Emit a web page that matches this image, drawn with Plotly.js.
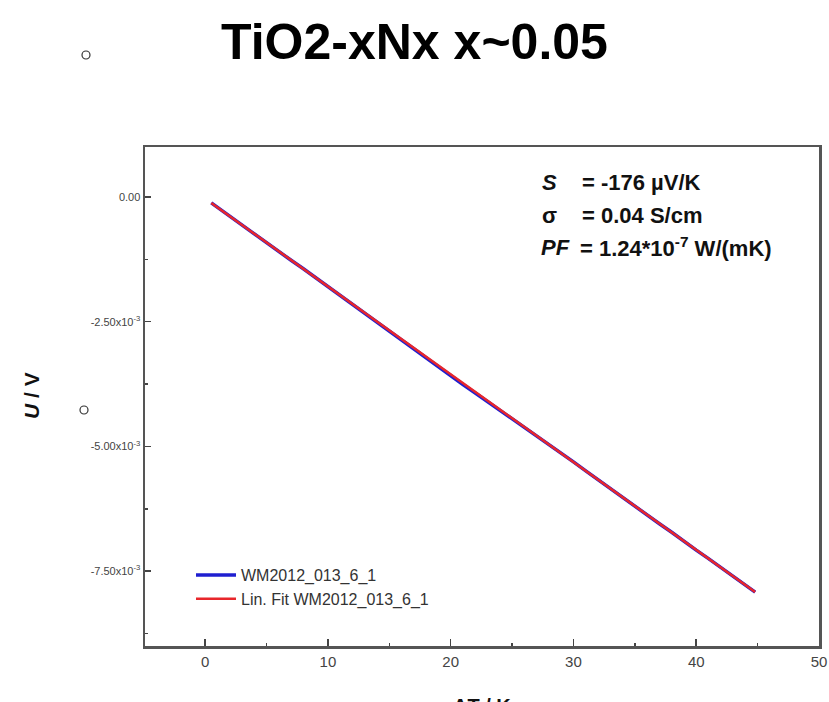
<!DOCTYPE html>
<html>
<head>
<meta charset="utf-8">
<script src="https://cdn.plot.ly/plotly-3.0.1.min.js"></script>
<style>html,body{margin:0;padding:0;background:#fff;}#chart{width:829px;height:702px;}</style>
</head>
<body>
<div id="chart"></div>
<script>
// Measured data (ΔT in K, U in V)
const deltaT = [0.5, 1, 2, 3, 4, 5, 6, 7, 8, 9, 10, 11, 12, 13, 14, 15, 16, 17, 18, 19, 20, 21, 22, 23, 24, 25, 26, 27, 28, 29, 30, 31, 32, 33, 34, 35, 36, 37, 38, 39, 40, 41, 42, 43, 44, 44.8];
const voltage_mV = [-0.12, -0.21, -0.39, -0.56, -0.74, -0.91, -1.09, -1.27, -1.44, -1.62, -1.79, -1.97, -2.15, -2.32, -2.50, -2.68, -2.86, -3.04, -3.23, -3.41, -3.59, -3.76, -3.93, -4.10, -4.27, -4.44, -4.61, -4.79, -4.96, -5.14, -5.31, -5.49, -5.67, -5.84, -6.02, -6.19, -6.37, -6.55, -6.72, -6.91, -7.08, -7.25, -7.43, -7.60, -7.78, -7.92];
// Linear fit end points
const fitT = [0.5, 44.8];
const fit_mV = [-0.122, -7.919];

const seriesNames = ['WM2012_013_6_1', 'Lin. Fit WM2012_013_6_1'];
const xTickVals = [0, 10, 20, 30, 40, 50];
const xTickText = ['0', '10', '20', '30', '40', '50'];
const yTickVals = [0, -2.5e-3, -5e-3, -7.5e-3];
const yTickText = ['0.00', '-2.50x10<sup>-3</sup>', '-5.00x10<sup>-3</sup>', '-7.50x10<sup>-3</sup>'];

const voltage = voltage_mV.map(v => v / 1000);
const fitU = fit_mV.map(v => v / 1000);

const FONT = 'Liberation Sans, Arial, sans-serif';

const traces = [
  {x: deltaT, y: voltage, type: 'scatter', mode: 'lines', name: seriesNames[0],
   line: {color: '#1f1fd0', width: 3.5}},
  {x: fitT, y: fitU, type: 'scatter', mode: 'lines', name: seriesNames[1],
   line: {color: '#e8262b', width: 2.5}}
];

function px2x(p){ return (p - 145) / 674; }
function px2y(p){ return (646 - p) / 499; }

const annFont = {family: FONT, size: 22, color: '#111'};
const layout = {
  width: 829, height: 702,
  margin: {l: 145, r: 10, t: 147, b: 56},
  paper_bgcolor: '#fff', plot_bgcolor: '#fff',
  font: {family: FONT, color: '#333'},
  showlegend: true,
  legend: {x: px2x(191), y: px2y(558), xanchor: 'left', yanchor: 'top',
    bgcolor: 'rgba(0,0,0,0)', font: {family: FONT, size: 16, color: '#333'},
    itemwidth: 40, tracegroupgap: 0},
  xaxis: {range: [-4.9, 50], tickvals: xTickVals, ticktext: xTickText,
    ticks: 'inside', ticklen: 7, tickwidth: 1.5, tickcolor: '#444',
    minor: {dtick: 5, tick0: 5, ticks: 'inside', ticklen: 3, tickcolor: '#444'},
    showline: true, linecolor: '#555', linewidth: 2.5, mirror: true,
    showgrid: false, zeroline: false,
    tickfont: {family: FONT, size: 15, color: '#444'}},
  yaxis: {range: [-9e-3, 1e-3], tickvals: yTickVals, ticktext: yTickText,
    ticks: 'inside', ticklen: 6, tickwidth: 1.5, tickcolor: '#444',
    minor: {dtick: 1.25e-3, tick0: 1.25e-3, ticks: 'inside', ticklen: 3, tickcolor: '#444'},
    showline: true, linecolor: '#555', linewidth: 2.5, mirror: true,
    showgrid: false, zeroline: false,
    tickfont: {family: FONT, size: 11, color: '#444'}},
  title: {text: '<b>TiO2-xNx x~0.05</b>', font: {family: FONT, size: 50, color: '#000'},
    x: 0.5, xref: 'container', xanchor: 'center', y: 1 - 41/702, yref: 'container', yanchor: 'middle'},
  annotations: [
    {xref: 'paper', yref: 'paper', x: px2x(540), y: px2y(183), xanchor: 'left', yanchor: 'middle',
     text: '<b><i>S</i></b>', showarrow: false, font: annFont},
    {xref: 'paper', yref: 'paper', x: px2x(540), y: px2y(215), xanchor: 'left', yanchor: 'middle',
     text: '<b>σ</b>', showarrow: false, font: annFont},
    {xref: 'paper', yref: 'paper', x: px2x(539), y: px2y(247), xanchor: 'left', yanchor: 'middle',
     text: '<b><i>PF</i></b>', showarrow: false, font: annFont},
    {xref: 'paper', yref: 'paper', x: px2x(580), y: px2y(183), xanchor: 'left', yanchor: 'middle',
     text: '<b>= -176 µV/K</b>', showarrow: false, font: annFont},
    {xref: 'paper', yref: 'paper', x: px2x(580), y: px2y(215), xanchor: 'left', yanchor: 'middle',
     text: '<b>= 0.04 S/cm</b>', showarrow: false, font: annFont},
    {xref: 'paper', yref: 'paper', x: px2x(578), y: px2y(247), xanchor: 'left', yanchor: 'middle',
     text: '<b>= 1.24*10<sup>-7</sup> W/(mK)</b>', showarrow: false, font: annFont},
    {xref: 'paper', yref: 'paper', x: px2x(31), y: px2y(395), xanchor: 'center', yanchor: 'middle',
     text: '<b><i>U</i> / V</b>', textangle: -90, showarrow: false,
     font: {family: FONT, size: 21, color: '#111'}},
    {xref: 'paper', yref: 'paper', x: px2x(482), y: px2y(693), xanchor: 'center', yanchor: 'top',
     text: '<b>ΔT / K</b>', showarrow: false,
     font: {family: FONT, size: 20, color: '#111'}}
  ],
  shapes: [
    {type: 'circle', xref: 'paper', yref: 'paper',
     x0: px2x(82), x1: px2x(90), y0: px2y(51), y1: px2y(59), line: {color: '#333', width: 1.2}},
    {type: 'circle', xref: 'paper', yref: 'paper',
     x0: px2x(80), x1: px2x(88), y0: px2y(406), y1: px2y(414), line: {color: '#333', width: 1.2}}
  ]
};

Plotly.newPlot('chart', traces, layout, {displayModeBar: false, staticPlot: true});
</script>
</body>
</html>
